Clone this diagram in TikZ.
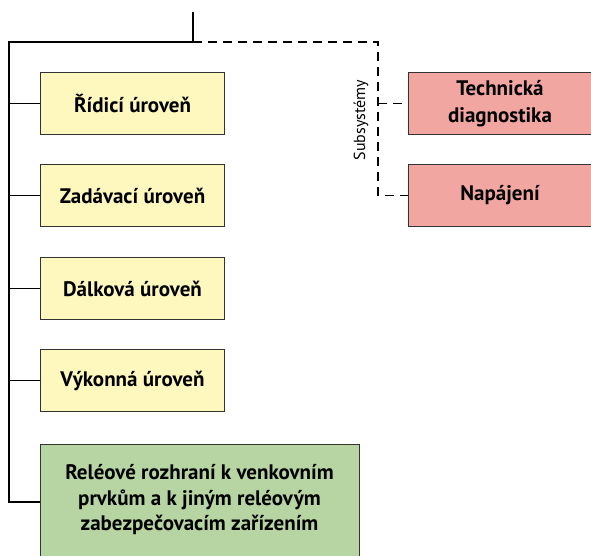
\documentclass[tikz,border=0pt]{standalone}
\usepackage{fontspec}
\setmainfont{PT Sans}
\definecolor{yel}{HTML}{FEF7BE}
\definecolor{redb}{HTML}{F2A6A2}
\definecolor{grn}{HTML}{B7D4A3}
\definecolor{bord}{HTML}{333333}
\begin{document}
\begin{tikzpicture}[x=1pt,y=-1pt,
  box/.style={draw=bord,line width=1pt,anchor=north west,inner sep=0pt,align=center,font=\fontsize{21}{27}\selectfont\bfseries},
  conn/.style={line width=1.2pt,black},
  dconn/.style={line width=1.2pt,black,dash pattern=on 9pt off 6pt}]
\useasboundingbox (0,0) rectangle (591,556);
\clip (0,0) rectangle (591,556);
\node[box,fill=yel,minimum width=184pt,minimum height=62pt] (r1) at (40,72) {Řídicí úroveň};
\node[box,fill=yel,minimum width=184pt,minimum height=62pt] (r2) at (40,164) {Zadávací úroveň};
\node[box,fill=yel,minimum width=184pt,minimum height=62pt] (r3) at (40,257) {Dálková úroveň};
\node[box,fill=yel,minimum width=184pt,minimum height=62pt] (r4) at (40,349) {Výkonná úroveň};
\node[box,fill=grn,minimum width=319pt,minimum height=125pt] (g) at (40,444) {};
\node[align=center,font=\fontsize{21}{25.5}\selectfont\bfseries] (gt) at (199.5,500) {Reléové rozhraní k venkovním\\prvkům a k jiným reléovým\\zabezpečovacím zařízením};
\node[box,fill=redb,minimum width=200pt,minimum height=62pt] (t) at (408,72) {\hspace*{-17pt}Technická\\\hspace*{-17pt}diagnostika};
\node[box,fill=redb,minimum width=200pt,minimum height=62pt] (n) at (408,164) {\hspace*{-17pt}Napájení};
\coordinate (top) at (193,12);
\coordinate (j) at (193,42);
\coordinate (lt) at (9,42);
\coordinate (lb) at (9,502);
\coordinate (dt) at (378,42);
\draw[conn] (top) -- (j) -- (lt) -- (lb) -- (g.west |- lb);
\foreach \b in {r1,r2,r3,r4} \draw[conn] (9,0 |- \b.west) -- (\b.west);
\draw[dconn] (j) -- (dt) -- (378,0 |- n.west) -- (n.west);
\draw[dconn] (378,0 |- t.west) -- (t.west);
\node[rotate=90,font=\fontsize{16}{18}\selectfont] (lab) at (361,120) {Subsystémy};
\end{tikzpicture}
\end{document}
